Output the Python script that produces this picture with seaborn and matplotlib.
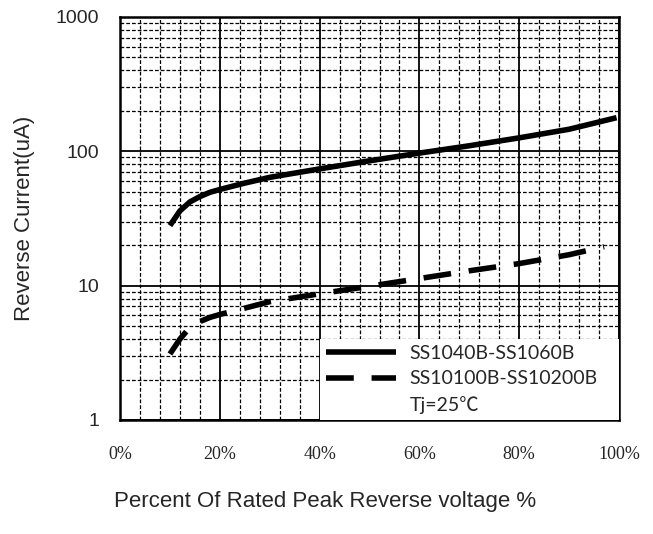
import pandas as pd
import matplotlib
matplotlib.use("Agg")
import matplotlib.pyplot as plt
import seaborn as sns
from matplotlib.ticker import MultipleLocator, LogLocator, FixedLocator, NullFormatter
from matplotlib.lines import Line2D

# Values
pct = [10, 12, 14, 16, 18, 20, 25, 30, 40, 50, 60, 70, 80, 90, 99.5]
ir_40_60 = [28, 36, 42, 46, 49.5, 52, 58, 64, 74, 85, 97, 110, 126, 146, 178]
pct_hv = [10, 12, 14, 16, 18, 20, 25, 30, 40, 50, 60, 70, 80, 90, 97]
ir_100_200 = [3.1, 4.0, 4.9, 5.4, 5.8, 6.1, 6.8, 7.6, 8.7, 9.9, 11.3, 12.9, 14.6, 17, 19.5]
series_names = ["SS1040B-SS1060B", "SS10100B-SS10200B"]
x_ticks = [0, 20, 40, 60, 80, 100]
x_labels = ["0%", "20%", "40%", "60%", "80%", "100%"]
y_ticks = [1, 10, 100, 1000]
y_labels = ["1", "10", "100", "1000"]

df1 = pd.DataFrame({"pct": pct, "ir": ir_40_60})
df2 = pd.DataFrame({"pct": pct_hv, "ir": ir_100_200})

sns.set_style("white")
plt.rcParams['font.family'] = ['Liberation Sans', 'DejaVu Sans']

fig = plt.figure(figsize=(6.53, 5.34), dpi=100)
ax = fig.add_axes([0.1838, 0.2135, 0.7642, 0.7547])

dash = (0, (5, 3.2))
sns.lineplot(data=df1, x="pct", y="ir", ax=ax, color="black", linewidth=4,
             solid_capstyle="butt", label=series_names[0], legend=False)
sns.lineplot(data=df2, x="pct", y="ir", ax=ax, color="black", linewidth=4,
             linestyle=dash, dash_capstyle="butt", label=series_names[1], legend=False)

ax.set_yscale("log")
ax.set_xlim(0, 100)
ax.set_ylim(1, 1000)

# grid: solid on majors, dashed on minors
ax.xaxis.set_major_locator(FixedLocator(x_ticks))
ax.xaxis.set_minor_locator(MultipleLocator(4))
ax.yaxis.set_major_locator(FixedLocator(y_ticks))
ax.yaxis.set_minor_locator(LogLocator(base=10, subs=range(2, 10)))
ax.yaxis.set_minor_formatter(NullFormatter())
ax.grid(which="major", color="black", linewidth=1.3, linestyle="-")
ax.grid(which="minor", color="black", linewidth=0.9, linestyle=(0, (3, 1.6)))
ax.set_axisbelow(True)

ax.set_xticks(x_ticks)
ax.set_xticklabels(x_labels, family=["Liberation Serif", "DejaVu Serif"], fontsize=13)
ax.set_yticks(y_ticks)
ax.set_yticklabels(y_labels, fontsize=14)
ax.tick_params(which="both", length=0)
ax.tick_params(axis="x", pad=19)
ax.tick_params(axis="y", pad=15)

for s in ax.spines.values():
    s.set_color("black")
    s.set_linewidth(1.8)

ax.set_xlabel("Percent Of Rated Peak Reverse voltage %", fontsize=16)
ax.xaxis.set_label_coords(0.41, -0.175)
ax.set_ylabel("Reverse Current(uA)", fontsize=16)
ax.yaxis.set_label_coords(-0.17, 0.5)

handles = [
    Line2D([], [], color="black", linewidth=4, solid_capstyle="butt"),
    Line2D([], [], color="black", linewidth=4, linestyle=dash, dash_capstyle="butt"),
    Line2D([], [], linestyle="none"),
]
labels = [series_names[0], series_names[1], "Tj=25\u2103"]
leg = ax.legend(handles, labels, loc="lower left", mode="expand", borderaxespad=0,
                bbox_to_anchor=(0.401, 0.0, 0.599, 0.236),
                frameon=True, fancybox=False, facecolor="white", edgecolor="none",
                framealpha=1, borderpad=0.3, handlelength=3.6, handletextpad=0.7,
                labelspacing=0.45,
                prop={"family": ["Lato", "Noto Sans CJK SC", "DejaVu Sans"], "size": 14})
leg.set_zorder(5)

fig.savefig("out.png", dpi=100)
